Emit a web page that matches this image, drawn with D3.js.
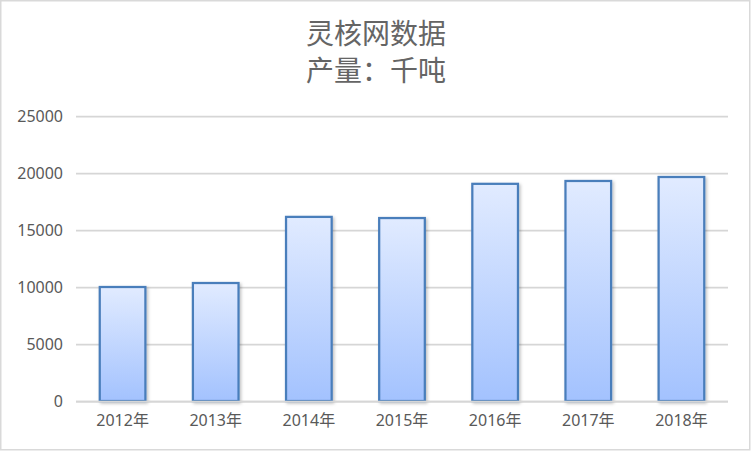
<!DOCTYPE html>
<html>
<head>
<meta charset="utf-8">
<script src="https://cdn.jsdelivr.net/npm/d3@7"></script>
<style>
	html, body { margin: 0; padding: 0; background: #fff; }
	svg { display: block; }
</style>
</head>
<body>
<div id="chart"></div>
<script>
/* bar chart: 灵核网数据 */

// data
var titleLines = ['灵核网数据', '产量：千吨'];
var years = ['2012年', '2013年', '2014年', '2015年', '2016年', '2017年', '2018年'];
var output = [10000, 10350, 16150, 16050, 19050, 19300, 19650];
var yTicks = [0, 5000, 10000, 15000, 20000, 25000];

var width = 752, height = 452;
var margin = {top: 116, right: 24, bottom: 51, left: 76};
var innerW = width - margin.left - margin.right;
var innerH = height - margin.top - margin.bottom;

var svg = d3.select('#chart').append('svg')
		.attr('width', width)
		.attr('height', height);

// gradient + shadow for the bars
var defs = svg.append('defs');
var grad = defs.append('linearGradient')
		.attr('id', 'barFill')
		.attr('x1', 0).attr('y1', 0)
		.attr('x2', 0).attr('y2', 1);
grad.append('stop').attr('offset', '0%').attr('stop-color', '#e1ebff');
grad.append('stop').attr('offset', '100%').attr('stop-color', '#a3c2fe');

var shadow = defs.append('filter')
		.attr('id', 'barShadow')
		.attr('x', '-20%').attr('y', '-10%')
		.attr('width', '150%').attr('height', '130%');
shadow.append('feDropShadow')
		.attr('dx', 1.5).attr('dy', 1.5)
		.attr('stdDeviation', 1.6)
		.attr('flood-color', '#000')
		.attr('flood-opacity', 0.25);

// chart border
svg.append('rect')
		.attr('x', 0.75).attr('y', 0.75)
		.attr('width', width - 3).attr('height', height - 3)
		.style('fill', '#fff')
		.style('stroke', '#d9d9d9')
		.style('stroke-width', 1.5);

// title
svg.append('text')
		.attr('x', 376)
		.attr('y', 44)
		.style('text-anchor', 'middle')
		.style('font-family', '"Noto Sans CJK SC", "Noto Sans", sans-serif')
		.style('font-size', '28px')
		.style('fill', '#656565')
		.selectAll('tspan')
		.data(titleLines)
		.enter()
		.append('tspan')
		.attr('x', 376)
		.attr('dy', (d, i) => i === 0 ? 0 : 37)
		.text(d => d);

var g = svg.append('g')
		.attr('transform', `translate(${margin.left}, ${margin.top})`);

// scales
var x = d3.scaleBand()
		.domain(years)
		.range([0, innerW])
		.paddingInner(0.51)
		.paddingOuter(0.255);

var y = d3.scaleLinear()
		.domain([0, 25000])
		.range([innerH, 0]);

// gridlines
g.selectAll('.grid')
		.data(yTicks)
		.enter()
		.append('line')
		.attr('x1', 0)
		.attr('x2', innerW)
		.attr('y1', d => Math.round(y(d)) + 0.5)
		.attr('y2', d => Math.round(y(d)) + 0.5)
		.style('stroke', '#d6d6d6')
		.style('stroke-width', 1.75);

// y axis labels
var yAxis = g.append('g')
		.call(d3.axisLeft(y).tickValues(yTicks).tickSize(0).tickPadding(13).tickFormat(d3.format('d')));
yAxis.select('.domain').remove();
yAxis.selectAll('text')
		.style('font-family', '"Noto Sans", sans-serif')
		.style('font-size', '16px')
		.style('fill', '#595959');

// bars
g.selectAll('.bar')
		.data(output)
		.enter()
		.append('rect')
		.attr('class', 'bar')
		.attr('x', (d, i) => x(years[i]))
		.attr('y', d => y(d))
		.attr('width', x.bandwidth())
		.attr('height', d => innerH - y(d))
		.style('fill', 'url(#barFill)')
		.style('stroke', '#4a7ebb')
		.style('stroke-width', 2.25)
		.style('filter', 'url(#barShadow)');

// baseline over the bars
g.append('line')
		.attr('x1', 0).attr('x2', innerW)
		.attr('y1', Math.round(y(0)) + 0.5).attr('y2', Math.round(y(0)) + 0.5)
		.style('stroke', '#d6d6d6')
		.style('stroke-width', 1.75);

// x axis labels
var xAxis = g.append('g')
		.attr('transform', `translate(0, ${innerH})`)
		.call(d3.axisBottom(x).tickSize(0).tickPadding(14));
xAxis.select('.domain').remove();
xAxis.selectAll('text')
		.style('font-family', '"Noto Sans", "Noto Sans CJK SC", sans-serif')
		.style('font-size', '16px')
		.style('fill', '#595959');
</script>
</body>
</html>
